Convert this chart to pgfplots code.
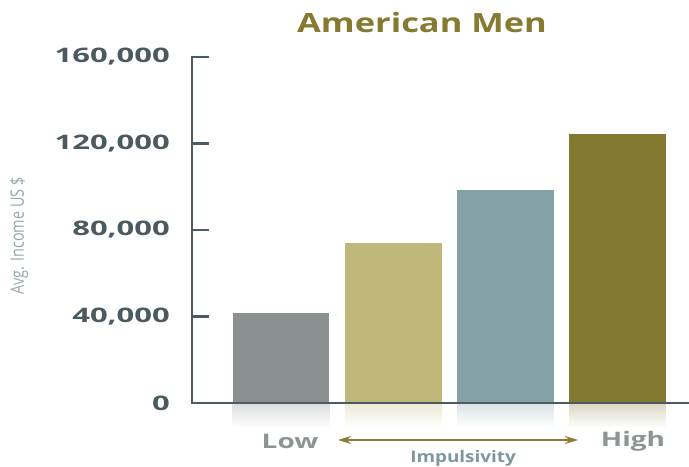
\documentclass[border=0pt]{standalone}
\usepackage{fontspec}
\usepackage{pgfplots}
\pgfplotsset{compat=1.18}
\usetikzlibrary{arrows.meta}
\setmainfont{Open Sans}
\newfontfamily\titlefont[FakeStretch=1.3]{Open Sans}
\newfontfamily\tickfont[FakeStretch=1.55]{Open Sans}
\newfontfamily\lowfont[FakeStretch=1.4]{Open Sans}
\newfontfamily\impfont[FakeStretch=1.18]{Open Sans}
\newfontfamily\ylabfont[FakeStretch=0.78]{Open Sans}
\definecolor{titlecol}{HTML}{857A30}
\definecolor{tickcol}{HTML}{4A5A60}
\definecolor{axiscol}{HTML}{4A5B63}
\definecolor{cA}{HTML}{8A9190}
\definecolor{cB}{HTML}{C0B77B}
\definecolor{cC}{HTML}{84A1A8}
\definecolor{cD}{HTML}{82782F}
\definecolor{lowcol}{HTML}{8C9494}
\definecolor{arrowcol}{HTML}{8A7D35}
\definecolor{impcol}{HTML}{7E979E}
\definecolor{ylabcol}{HTML}{93A9AE}
\begin{document}
\begin{tikzpicture}[x=1bp,y=1bp]
\useasboundingbox (0,0) rectangle (689,467);
\begin{axis}[
  at={(192bp,64bp)}, anchor=south west,
  scale only axis, width=497bp, height=346bp,
  xmin=0.207, xmax=4.635, ymin=0, ymax=160000,
  clip=false, axis on top=true,
  axis x line=bottom, axis y line=left,
  axis line style={-, line width=2.8bp, color=axiscol, line cap=rect},
  xtick=\empty,
  ytick={0,40000,80000,120000,160000},
  yticklabels={0,{40,000},{80,000},{120,000},{160,000}},
  scaled y ticks=false,
  tick align=inside, major tick length=17bp,
  tick style={line width=2.8bp, color=axiscol},
  yticklabel style={font=\tickfont\bfseries\fontsize{20bp}{20bp}\selectfont, color=tickcol, inner sep=0pt, xshift=-22bp},
]
\addplot[ybar, bar width=0.86, bar shift=0pt, fill=cA, draw=none] coordinates {(1,41500)};
\addplot[ybar, bar width=0.86, bar shift=0pt, fill=cB, draw=none] coordinates {(2,74100)};
\addplot[ybar, bar width=0.86, bar shift=0pt, fill=cC, draw=none] coordinates {(3,98500)};
\addplot[ybar, bar width=0.86, bar shift=0pt, fill=cD, draw=none] coordinates {(4,124500)};
\addplot[ybar, bar width=0.86, bar shift=0pt, draw=none, top color=cA!30, bottom color=white] coordinates {(1,-11500)};
\addplot[ybar, bar width=0.86, bar shift=0pt, draw=none, top color=cB!30, bottom color=white] coordinates {(2,-11500)};
\addplot[ybar, bar width=0.86, bar shift=0pt, draw=none, top color=cC!30, bottom color=white] coordinates {(3,-11500)};
\addplot[ybar, bar width=0.86, bar shift=0pt, draw=none, top color=cD!30, bottom color=white] coordinates {(4,-11500)};
\end{axis}
\node[font=\titlefont\bfseries\fontsize{26.5bp}{27bp}\selectfont, color=titlecol] at (422,444) {American Men};
\node[rotate=90, font=\ylabfont\fontsize{18.5bp}{18bp}\selectfont, color=ylabcol] at (19,231) {Avg. Income US \$};
\node[font=\lowfont\bfseries\fontsize{20bp}{20bp}\selectfont, color=lowcol] at (290,26) {Low};
\node[font=\lowfont\bfseries\fontsize{20bp}{20bp}\selectfont, color=lowcol] at (633,26) {High};
\draw[{Stealth[length=13bp,width=8bp]}-{Stealth[length=13bp,width=8bp]}, line width=2.2bp, color=arrowcol] (338,27) -- (578,27);
\node[font=\impfont\bfseries\fontsize{16bp}{17bp}\selectfont, color=impcol, inner sep=1bp] at (463,8.5) {Impulsivity};
\end{tikzpicture}
\end{document}
